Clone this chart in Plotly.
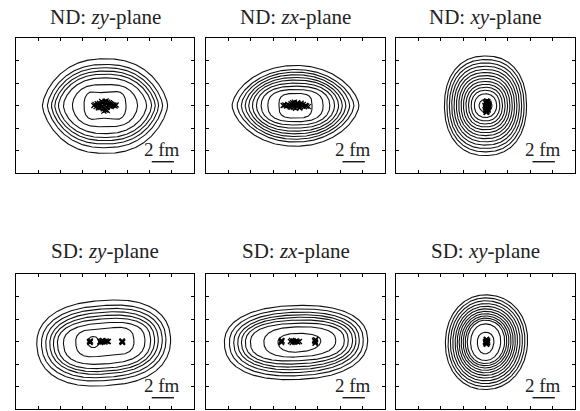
import numpy as np
import plotly.graph_objects as go

# ---------------- data (fm) ----------------
titles = ["ND: <i>zy</i>-plane", "ND: <i>zx</i>-plane", "ND: <i>xy</i>-plane",
          "SD: <i>zy</i>-plane", "SD: <i>zx</i>-plane", "SD: <i>xy</i>-plane"]
scale_label = "2 fm"
scale_length = 2.0

# contour rings: left / right / top / bottom half-extents, shape powers, dent
nd_zy_xl = [5.63, 5.18, 4.82, 4.52, 4.19, 3.74, 2.93, 1.89]
nd_zy_xr = [5.63, 5.18, 4.82, 4.52, 4.19, 3.74, 2.93, 1.89]
nd_zy_yt = [4.15, 3.65, 3.35, 3.06, 2.79, 2.46, 1.96, 1.45]
nd_zy_yb = [4.25, 3.75, 3.42, 3.12, 2.85, 2.50, 2.00, 1.45]
nd_zy_p = [2.4, 2.4, 2.4, 2.4, 2.4, 2.4, 2.6, 3.0]
nd_zy_q = [1.5, 1.5, 1.55, 1.55, 1.6, 1.65, 1.85, 2.6]
nd_zy_dent = [0, 0, 0, 0, 0, 0, 0.05, 0.22]

nd_zx_xl = [5.67, 5.22, 4.84, 4.50, 4.18, 3.85, 3.49, 3.07, 2.47, 1.48]
nd_zx_xr = [5.67, 5.22, 4.84, 4.50, 4.18, 3.85, 3.49, 3.07, 2.47, 1.48]
nd_zx_yt = [3.56, 3.20, 2.97, 2.73, 2.49, 2.26, 1.99, 1.72, 1.42, 1.07]
nd_zx_yb = [3.62, 3.25, 3.00, 2.76, 2.52, 2.28, 2.01, 1.74, 1.44, 1.12]
nd_zx_p = [2.1, 2.1, 2.1, 2.2, 2.2, 2.3, 2.4, 2.5, 2.7, 3.2]
nd_zx_q = [1.6, 1.6, 1.7, 1.7, 1.8, 1.9, 2.0, 2.2, 2.5, 3.2]
nd_zx_dent = [0] * 10

nd_xy_xl = [3.67, 3.45, 3.23, 3.02, 2.81, 2.60, 2.39, 2.18, 1.97, 1.75, 1.52, 1.28, 1.00, 0.58]
nd_xy_xr = [3.67, 3.45, 3.23, 3.02, 2.81, 2.60, 2.39, 2.18, 1.97, 1.75, 1.52, 1.28, 1.00, 0.58]
nd_xy_yt = [4.40, 4.08, 3.78, 3.49, 3.20, 2.93, 2.66, 2.40, 2.14, 1.88, 1.62, 1.35, 1.05, 0.55]
nd_xy_yb = [4.45, 4.12, 3.82, 3.52, 3.23, 2.95, 2.68, 2.42, 2.16, 1.90, 1.64, 1.37, 1.07, 0.58]
nd_xy_p = [2.3] * 12 + [2.1, 2.0]
nd_xy_q = [2.2] * 12 + [2.1, 2.0]
nd_xy_dent = [0] * 14

sd_zy_xl = [6.14, 5.72, 5.33, 4.97, 4.64, 4.28, 3.74, 2.63]
sd_zy_xr = [5.90, 5.48, 5.15, 4.79, 4.46, 4.10, 3.59, 2.60]
sd_zy_yt = [3.65, 3.20, 2.90, 2.61, 2.31, 2.02, 1.66, 1.28]
sd_zy_yb = [3.92, 3.47, 3.18, 2.88, 2.64, 2.37, 1.99, 1.39]
sd_zy_p = [2.5, 2.5, 2.5, 2.5, 2.5, 2.6, 2.7, 3.0]
sd_zy_q = [2.2, 2.2, 2.2, 2.2, 2.3, 2.4, 2.5, 2.8]
sd_zy_dent = [0, 0, 0, 0, 0, 0, 0, 0.08]

sd_zx_xl = [6.36, 5.91, 5.52, 5.16, 4.83, 4.48, 4.03, 2.83, 1.57]
sd_zx_xr = [6.45, 6.06, 5.70, 5.40, 5.10, 4.72, 4.36, 3.60, 2.26]
sd_zx_yt = [3.20, 2.88, 2.60, 2.36, 2.14, 1.90, 1.62, 1.30, 0.72]
sd_zx_yb = [3.38, 3.05, 2.76, 2.50, 2.26, 2.00, 1.72, 1.38, 0.95]
sd_zx_p = [2.3, 2.3, 2.3, 2.3, 2.4, 2.4, 2.5, 2.4, 2.2]
sd_zx_q = [2.3, 2.3, 2.3, 2.3, 2.3, 2.4, 2.5, 2.4, 2.2]
sd_zx_dent = [0] * 9

sd_xy_xl = [3.58, 3.34, 3.13, 2.92, 2.71, 2.53, 2.35, 2.17, 1.99, 1.81, 1.63, 1.33, 0.73]
sd_xy_xr = [3.76, 3.52, 3.30, 3.08, 2.86, 2.66, 2.47, 2.28, 2.09, 1.90, 1.71, 1.36, 0.76]
sd_xy_yt = [4.15, 3.88, 3.62, 3.37, 3.13, 2.90, 2.68, 2.47, 2.27, 2.08, 1.90, 1.57, 0.83]
sd_xy_yb = [4.27, 4.00, 3.74, 3.49, 3.25, 3.01, 2.78, 2.56, 2.35, 2.15, 1.96, 1.69, 1.10]
sd_xy_p = [2.1] * 13
sd_xy_q = [2.1] * 13
sd_xy_dent = [0] * 13

# tilt of each panel's contours (degrees)
tilts = [0, 0, 0, 4, 2, -4]

# small extra circle (SD zy): centre x, centre y, radius
sd_zy_circle_x = [-1.05]
sd_zy_circle_y = [-0.05]
sd_zy_circle_r = [0.5]

# particle positions (crosses)
nd_zy_px = [-1.0, -0.9, -0.8, -0.7, -0.6, -0.5, -0.45, -0.4, -0.3, -0.2, -0.15, -0.1, 0.0, 0.05, 0.1, 0.2,
            0.25, 0.3, 0.4, 0.5, 0.55, 0.6, 0.7, 0.8, 0.9, 1.0, -0.3, 0.0, 0.2, -0.6, 0.4, -0.1, 0.1]
nd_zy_py = [0.0, 0.1, -0.1, 0.15, -0.05, 0.2, -0.2, 0.05, -0.1, 0.25, -0.3, 0.1, 0.0, -0.4, 0.2, -0.15,
            0.3, 0.05, -0.05, 0.15, -0.1, 0.1, 0.0, 0.05, -0.05, 0.05, 0.35, 0.35, -0.45, -0.2, 0.25, -0.5, 0.4]
nd_zx_px = [-1.1, -0.95, -0.8, -0.7, -0.6, -0.5, -0.4, -0.3, -0.2, -0.1, 0.0, 0.1, 0.2, 0.3, 0.4, 0.5,
            0.6, 0.7, 0.8, 0.9, 1.0, 1.15, -0.4, -0.1, 0.2, 0.5, 0.0, -0.25, 0.35]
nd_zx_py = [0.0, 0.05, -0.05, 0.1, 0.0, -0.1, 0.15, 0.05, -0.15, 0.1, 0.0, -0.1, 0.15, 0.0, -0.2, 0.05,
            -0.05, 0.1, -0.1, 0.0, -0.05, -0.1, -0.15, 0.3, 0.25, 0.2, -0.25, 0.25, -0.2]
nd_xy_px = [-0.05, 0.0, 0.05, 0.1, 0.15, 0.2, 0.25, 0.3, 0.0, 0.1, 0.2, 0.3, 0.05, 0.15, 0.25, 0.0,
            0.1, 0.2, 0.3, 0.05, 0.15, 0.25, 0.1, 0.2]
nd_xy_py = [0.0, 0.3, -0.3, 0.4, -0.5, 0.1, -0.2, 0.2, -0.15, -0.6, 0.35, -0.1, 0.15, 0.0, -0.4, -0.45,
            0.2, -0.3, 0.05, -0.6, -0.15, 0.1, -0.45, 0.3]
sd_zy_px = [-1.4, -1.35, -1.3, -1.35, -0.45, -0.4, -0.3, -0.25, -0.2, -0.1, 0.0, 0.1, 0.2, 0.3, 1.5, 1.55, 1.6, 1.55]
sd_zy_py = [0.0, -0.1, 0.05, -0.05, 0.0, -0.1, 0.05, -0.05, 0.1, 0.0, -0.05, 0.05, 0.0, 0.0, 0.0, -0.1, -0.05, 0.05]
sd_zx_px = [-1.3, -1.25, -1.2, -1.25, -0.45, -0.35, -0.3, -0.2, -0.1, 0.0, 0.1, 0.2, 0.35, 1.75, 1.8, 1.75, 1.7, 1.8]
sd_zx_py = [0.0, -0.1, 0.05, 0.1, 0.0, 0.1, -0.1, 0.05, -0.05, 0.0, 0.05, -0.05, 0.0, 0.0, 0.15, -0.15, 0.1, -0.08]
sd_xy_px = [0.0, 0.05, 0.1, 0.15, 0.2, 0.05, 0.1, 0.15, 0.0, 0.2, 0.1, 0.1]
sd_xy_py = [0.0, 0.15, -0.05, 0.1, -0.1, -0.2, 0.2, -0.15, -0.1, 0.05, 0.0, -0.25]

panels = [
    (nd_zy_xl, nd_zy_xr, nd_zy_yt, nd_zy_yb, nd_zy_p, nd_zy_q, nd_zy_dent, nd_zy_px, nd_zy_py),
    (nd_zx_xl, nd_zx_xr, nd_zx_yt, nd_zx_yb, nd_zx_p, nd_zx_q, nd_zx_dent, nd_zx_px, nd_zx_py),
    (nd_xy_xl, nd_xy_xr, nd_xy_yt, nd_xy_yb, nd_xy_p, nd_xy_q, nd_xy_dent, nd_xy_px, nd_xy_py),
    (sd_zy_xl, sd_zy_xr, sd_zy_yt, sd_zy_yb, sd_zy_p, sd_zy_q, sd_zy_dent, sd_zy_px, sd_zy_py),
    (sd_zx_xl, sd_zx_xr, sd_zx_yt, sd_zx_yb, sd_zx_p, sd_zx_q, sd_zx_dent, sd_zx_px, sd_zx_py),
    (sd_xy_xl, sd_xy_xr, sd_xy_yt, sd_xy_yb, sd_xy_p, sd_xy_q, sd_xy_dent, sd_xy_px, sd_xy_py),
]

# ---------------- layout geometry (pixels) ----------------
W, H = 580, 411
col_px = [(16, 194), (206, 385), (396, 575)]
row_px = [(38, 173), (274, 409)]
title_y_px = [17, 251]


def ring(xl, xr, yt, yb, p, q, dent, tilt, n=400):
    t = np.linspace(0, 2 * np.pi, n)
    c, s = np.cos(t), np.sin(t)
    x = np.where(c >= 0, xr, xl) * np.sign(c) * np.abs(c) ** (2.0 / p)
    y = np.where(s >= 0, yt, yb) * np.sign(s) * np.abs(s) ** (2.0 / q)
    y = y * (1 - dent * np.abs(s) ** 10)
    a = np.deg2rad(tilt)
    return x * np.cos(a) - y * np.sin(a), x * np.sin(a) + y * np.cos(a)


fig = go.Figure()
line_style = dict(color="#111111", width=1.1)

for k, (xl, xr, yt, yb, p, q, dent, px, py) in enumerate(panels):
    r, c = divmod(k, 3)
    xa = "x" if k == 0 else f"x{k+1}"
    ya = "y" if k == 0 else f"y{k+1}"
    for i in range(len(xl)):
        x, y = ring(xl[i], xr[i], yt[i], yb[i], p[i], q[i], dent[i], tilts[k])
        fig.add_trace(go.Scatter(x=x, y=y, mode="lines", line=line_style,
                                 xaxis=xa, yaxis=ya, showlegend=False, hoverinfo="skip"))
    if k == 3:
        for cx, cy, rr in zip(sd_zy_circle_x, sd_zy_circle_y, sd_zy_circle_r):
            x, y = ring(rr, rr, rr, rr, 2, 2, 0, 0)
            fig.add_trace(go.Scatter(x=x + cx, y=y + cy, mode="lines", line=line_style,
                                     xaxis=xa, yaxis=ya, showlegend=False, hoverinfo="skip"))
    fig.add_trace(go.Scatter(x=px, y=py, mode="markers",
                             marker=dict(symbol="x-thin", size=5, color="black",
                                         line=dict(color="black", width=1.3)),
                             xaxis=xa, yaxis=ya, showlegend=False, hoverinfo="skip"))
    # scale bar
    fig.add_trace(go.Scatter(x=[4.2, 4.2 + scale_length], y=[-5.0, -5.0], mode="lines",
                             line=dict(color="black", width=1.3),
                             xaxis=xa, yaxis=ya, showlegend=False, hoverinfo="skip"))

    x0, x1 = col_px[c]
    y0, y1 = row_px[r]
    axis_common = dict(showline=True, linecolor="black", linewidth=1, mirror="ticks",
                       ticks="inside", ticklen=3, tickcolor="black", tickwidth=1,
                       showticklabels=False, showgrid=False, zeroline=False, fixedrange=True)
    fig.layout[("xaxis" if k == 0 else f"xaxis{k+1}")] = dict(
        domain=[x0 / W, x1 / W], range=[-8, 8], tick0=-8, dtick=2,
        anchor=ya, **axis_common)
    fig.layout[("yaxis" if k == 0 else f"yaxis{k+1}")] = dict(
        domain=[1 - y1 / H, 1 - y0 / H], range=[-6, 6], tick0=-6, dtick=2,
        anchor=xa, **axis_common)

    fig.add_annotation(x=(x0 + x1) / 2 / W, y=1 - title_y_px[r] / H, xref="paper", yref="paper",
                       text=titles[k], showarrow=False, xanchor="center", yanchor="middle",
                       font=dict(family="Liberation Serif", size=21, color="#222222"))
    fig.add_annotation(x=5.15, y=-3.9, xref=xa, yref=ya, text=scale_label, showarrow=False,
                       xanchor="center", yanchor="middle",
                       font=dict(family="Liberation Serif", size=19, color="#222222"))

fig.update_layout(width=W, height=H, margin=dict(l=0, r=0, t=0, b=0),
                  paper_bgcolor="white", plot_bgcolor="white", hovermode=False)

fig.write_html("out.html", config={"displayModeBar": False, "staticPlot": True},
               post_script="document.body.style.margin='0px';document.body.style.overflow='hidden';")
